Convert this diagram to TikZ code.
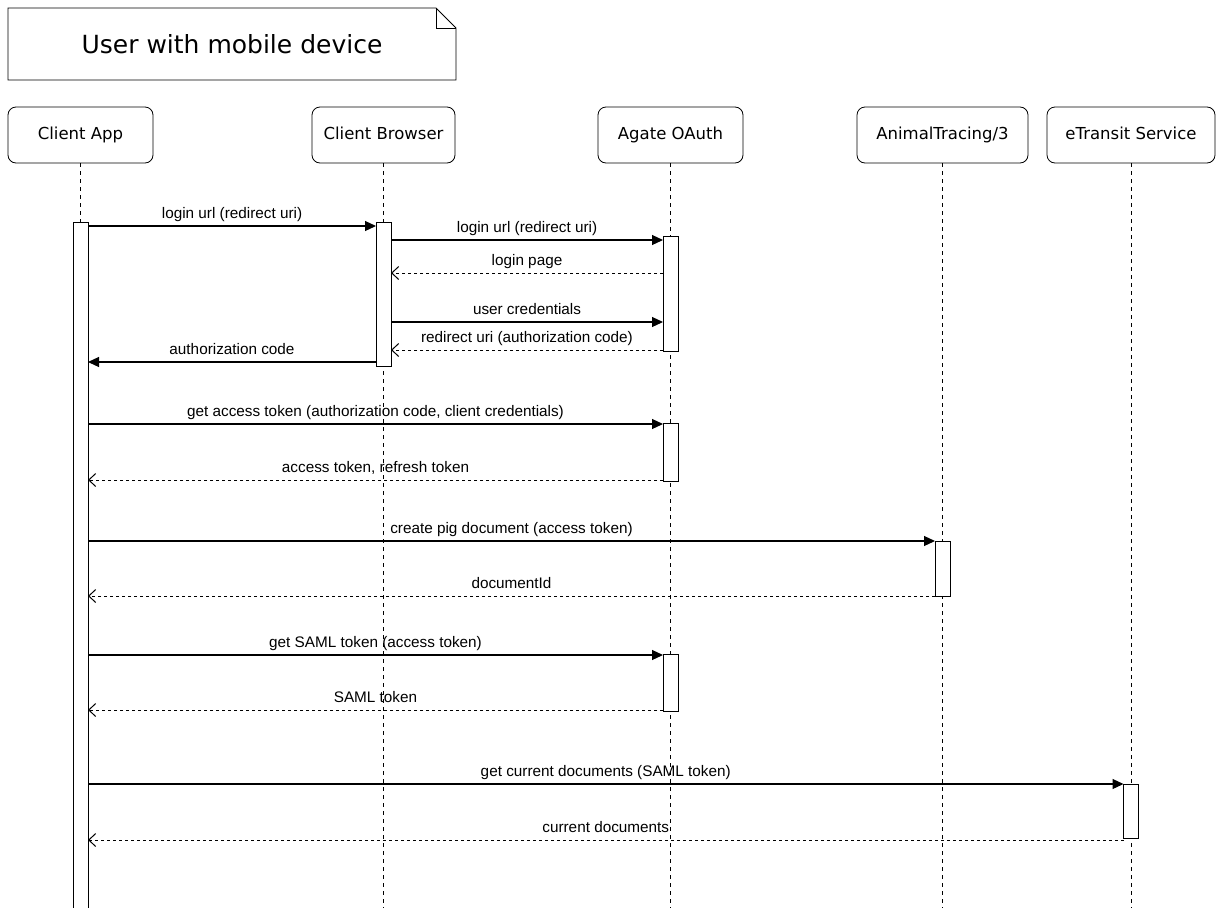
\documentclass[tikz,border=0pt]{standalone}
\usepackage{fontspec}
\setmainfont{Liberation Sans}
\newfontfamily\headfont{DejaVu Sans}
\usetikzlibrary{arrows.meta}

\begin{document}
\begin{tikzpicture}[y=-1pt, x=1pt, inner sep=0pt, outer sep=0pt,
  header/.style={draw, rounded corners=8pt, line width=0.8pt, minimum height=56pt,
    text height=12.5pt, text depth=3.5pt, font=\headfont\fontsize{16.5}{18}\selectfont},
  lifeline/.style={line width=0.8pt, dash pattern=on 4pt off 4pt},
  bar/.style={draw, fill=white, line width=0.9pt, minimum width=15pt, anchor=north},
  call/.style={line width=1.2pt, -{Triangle[length=11pt,width=10pt]}},
  reply/.style={line width=0.9pt, dash pattern=on 3pt off 3pt, -{Straight Barb[length=7pt,width=13pt,line width=1pt]}},
  msg/.style={midway, above=5pt, text height=11pt, text depth=3pt, font=\fontsize{15.3}{17}\selectfont}]

\useasboundingbox (0,0) rectangle (1219,908);

% note
\draw[line width=0.8pt] (8,8) -- (436,8) -- (456,28) -- (456,80) -- (8,80) -- cycle;
\draw[line width=0.8pt] (436,8) -- (436,28) -- (456,28);
\node[font=\headfont\fontsize{25}{28}\selectfont] (note) at (232,44) {User with mobile device};

% participants
\node[header, minimum width=145pt] (app)     at (80.5,135)  {Client App};
\node[header, minimum width=143pt] (browser) at (383.5,135) {Client Browser};
\node[header, minimum width=145pt] (oauth)   at (670.5,135) {Agate OAuth};
\node[header, minimum width=171pt] (tracing) at (942.5,135) {AnimalTracing/3};
\node[header, minimum width=168pt] (transit) at (1131,135)  {eTransit Service};

% lifelines
\foreach \p in {app, browser, oauth, tracing, transit}
  \draw[lifeline] (\p.south) -- (\p.south |- 0,908);

% activations
\node[bar, minimum height=700pt] (appAct)     at (app.south |- 0,222)     {};
\node[bar, minimum height=144pt] (browserAct) at (browser.south |- 0,222) {};
\node[bar, minimum height=115pt] (oauthActA)  at (oauth.south |- 0,236)   {};
\node[bar, minimum height=58pt]  (oauthActB)  at (oauth.south |- 0,423)   {};
\node[bar, minimum height=55pt]  (tracingAct) at (tracing.south |- 0,541) {};
\node[bar, minimum height=57pt]  (oauthActC)  at (oauth.south |- 0,654)   {};
\node[bar, minimum height=54pt]  (transitAct) at (transit.south |- 0,784) {};

% login
\draw[call]  (appAct.east |- 0,226) -- (browserAct.west |- 0,226) node[msg] {login url (redirect uri)};
\draw[call]  (browserAct.east |- 0,240) -- (oauthActA.west |- 0,240) node[msg] {login url (redirect uri)};
\draw[reply] (oauthActA.west |- 0,273) -- (browserAct.east |- 0,273) node[msg] {login page};
\draw[call]  (browserAct.east |- 0,322) -- (oauthActA.west |- 0,322) node[msg] {user credentials};
\draw[reply] (oauthActA.west |- 0,350) -- (browserAct.east |- 0,350) node[msg] {redirect uri (authorization code)};
\draw[call]  (browserAct.west |- 0,362) -- (appAct.east |- 0,362) node[msg] {authorization code};

% token
\draw[call]  (appAct.east |- 0,424) -- (oauthActB.west |- 0,424) node[msg] {get access token (authorization code, client credentials)};
\draw[reply] (oauthActB.west |- 0,480) -- (appAct.east |- 0,480) node[msg] {access token, refresh token};

% document
\draw[call]  (appAct.east |- 0,541) -- (tracingAct.west |- 0,541) node[msg] {create pig document (access token)};
\draw[reply] (tracingAct.west |- 0,596) -- (appAct.east |- 0,596) node[msg] {documentId};

% saml
\draw[call]  (appAct.east |- 0,655) -- (oauthActC.west |- 0,655) node[msg] {get SAML token (access token)};
\draw[reply] (oauthActC.west |- 0,710) -- (appAct.east |- 0,710) node[msg] {SAML token};

% etransit
\draw[call]  (appAct.east |- 0,784) -- (transitAct.west |- 0,784) node[msg] {get current documents (SAML token)};
\draw[reply] (transitAct.west |- 0,840) -- (appAct.east |- 0,840) node[msg] {current documents};

\end{tikzpicture}
\end{document}
